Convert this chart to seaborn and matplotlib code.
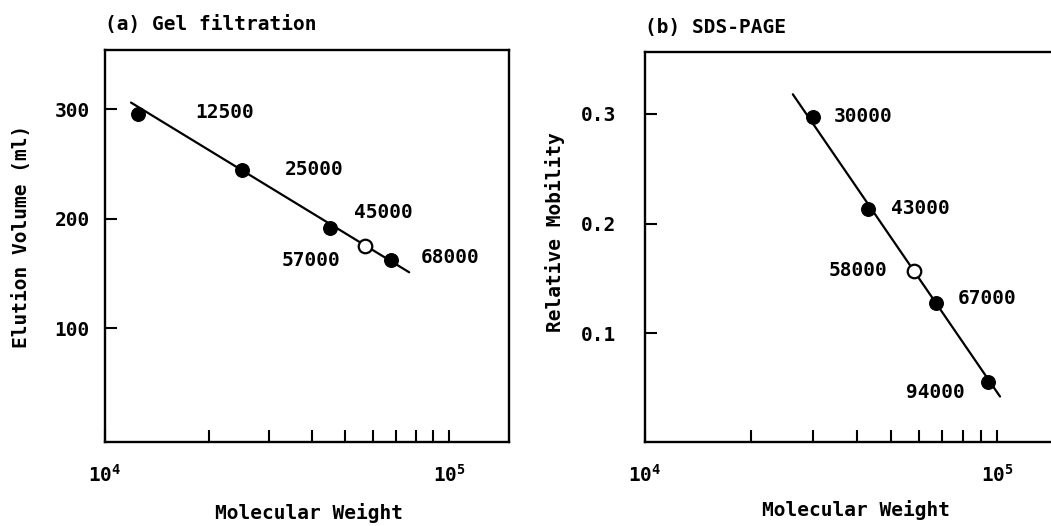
import numpy as np
import pandas as pd
import matplotlib
matplotlib.use("Agg")
import matplotlib.pyplot as plt
import seaborn as sns
from matplotlib.ticker import FixedLocator, FixedFormatter, NullFormatter

# ---------------- data ----------------
# (a) Gel filtration
gel_mw = [12500, 25000, 45000, 57000, 68000]
gel_volume = [296, 244, 191, 175, 162]
gel_open = [False, False, False, True, False]
gel_labels = ["12500", "25000", "45000", "57000", "68000"]
gel_fit_mw = [11900, 76600]
gel_fit_volume = [306, 151]

# (b) SDS-PAGE
sds_mw = [30000, 43000, 58000, 67000, 94000]
sds_mobility = [0.297, 0.213, 0.157, 0.127, 0.055]
sds_open = [False, False, True, False, False]
sds_labels = ["30000", "43000", "58000", "67000", "94000"]
sds_fit_mw = [26300, 102000]
sds_fit_mobility = [0.318, 0.042]

gel_yticks = [100, 200, 300]
sds_yticks = [0.1, 0.2, 0.3]
sds_ytick_labels = ["0.1", "0.2", "0.3"]
x_major = [1e4, 1e5]
x_major_labels = [r"$\mathregular{10^{4}}$", r"$\mathregular{10^{5}}$"]
x_minor = [2e4, 3e4, 4e4, 5e4, 6e4, 7e4, 8e4, 9e4]

# label offsets (pixels, x right / y down)
gel_offsets = [(86, -1), (72, -1), (54, -16), (-54, 14), (59, -3)]
sds_offsets = [(50, -1), (52, -1), (-56, 0), (51, -5), (-52, 10)]

# ---------------- style ----------------
sns.set_style("white")
plt.rcParams["font.family"] = ["DejaVu Sans Mono", "DejaVu Sans"]
plt.rcParams["font.weight"] = "bold"
plt.rcParams["font.size"] = 14
plt.rcParams["text.color"] = "black"
plt.rcParams["axes.labelcolor"] = "black"
plt.rcParams["axes.labelweight"] = "bold"
plt.rcParams["xtick.color"] = "black"
plt.rcParams["ytick.color"] = "black"
plt.rcParams["mathtext.fontset"] = "custom"
plt.rcParams["mathtext.rm"] = "DejaVu Sans Mono:bold"
plt.rcParams["mathtext.it"] = "DejaVu Sans Mono:bold"
plt.rcParams["mathtext.bf"] = "DejaVu Sans Mono:bold"

W, H = 1051, 526
fig = plt.figure(figsize=(W / 100, H / 100), dpi=100)


def px_axes(left, top, right, bottom):
    return fig.add_axes([left / W, 1 - bottom / H, (right - left) / W, (bottom - top) / H])


def draw_panel(ax, mw, val, is_open, labels, offsets, fit_x, fit_y):
    df = pd.DataFrame({"mw": mw, "val": val, "open": is_open, "label": labels})
    fit = pd.DataFrame({"mw": fit_x, "val": fit_y})
    sns.lineplot(data=fit, x="mw", y="val", ax=ax, color="black", lw=1.6, zorder=2)
    filled = df[~df["open"]]
    hollow = df[df["open"]]
    sns.scatterplot(data=filled, x="mw", y="val", ax=ax, s=95, color="black",
                    edgecolor="black", linewidth=1.0, zorder=3)
    sns.scatterplot(data=hollow, x="mw", y="val", ax=ax, s=95, facecolor="white",
                    edgecolor="black", linewidth=1.6, zorder=3)
    for (_, r), (dx, dy) in zip(df.iterrows(), offsets):
        ax.annotate(r["label"], (r["mw"], r["val"]), xytext=(dx * 0.72, -dy * 0.72),
                    textcoords="offset points", ha="center", va="center",
                    fontsize=14, fontweight="bold")
    ax.set_xscale("log")
    ax.xaxis.set_major_locator(FixedLocator(x_major))
    ax.xaxis.set_major_formatter(FixedFormatter(x_major_labels))
    ax.xaxis.set_minor_locator(FixedLocator(x_minor))
    ax.xaxis.set_minor_formatter(NullFormatter())
    ax.tick_params(axis="x", which="both", direction="in", length=8.5, width=1.5,
                   bottom=True, top=False, pad=16, labelsize=14)
    for sp in ax.spines.values():
        sp.set_linewidth(1.7)
        sp.set_color("black")
    ax.grid(False)


# ---- panel (a)
ax1 = px_axes(105, 50, 509, 442)
draw_panel(ax1, gel_mw, gel_volume, gel_open, gel_labels, gel_offsets,
           gel_fit_mw, gel_fit_volume)
ax1.set_xlim(1e4, 10 ** (4 + 404 / 344))
ax1.set_ylim(-4, 354)
ax1.set_yticks(gel_yticks)
ax1.set_yticklabels([str(v) for v in gel_yticks])
ax1.tick_params(axis="y", direction="in", length=8.5, width=1.5, left=True,
                right=False, pad=11, labelsize=14)
ax1.set_xlabel("Molecular Weight", fontsize=14, ha="center", va="center")
ax1.xaxis.set_label_coords((309 - 105) / 404, (442 - 513) / 392)
ax1.set_ylabel("Elution Volume (ml)", fontsize=14, ha="center", va="center")
ax1.yaxis.set_label_coords((22 - 105) / 404, (442 - 236) / 392)
ax1.text(0.0, (442 - 25) / 392, "(a) Gel filtration", transform=ax1.transAxes,
         ha="left", va="center", fontsize=14, fontweight="bold")

# ---- panel (b)
ax2 = px_axes(645, 52, 1065, 442)
draw_panel(ax2, sds_mw, sds_mobility, sds_open, sds_labels, sds_offsets,
           sds_fit_mw, sds_fit_mobility)
ax2.set_xlim(1e4, 10 ** (4 + 420 / 352))
ax2.set_ylim(0.0005, 0.3566)
ax2.set_yticks(sds_yticks)
ax2.set_yticklabels(sds_ytick_labels)
ax2.tick_params(axis="y", direction="in", length=8.5, width=1.5, left=True,
                right=False, pad=21, labelsize=14)
ax2.set_xlabel("Molecular Weight", fontsize=14, ha="center", va="center")
ax2.xaxis.set_label_coords((856 - 645) / 420, (442 - 510) / 390)
ax2.set_ylabel("Relative Mobility", fontsize=14, ha="center", va="center")
ax2.yaxis.set_label_coords((555 - 645) / 420, (442 - 232) / 390)
ax2.text(0.0, (442 - 27) / 390, "(b) SDS-PAGE", transform=ax2.transAxes,
         ha="left", va="center", fontsize=14, fontweight="bold")

fig.savefig("out.png", dpi=100, facecolor="white")
